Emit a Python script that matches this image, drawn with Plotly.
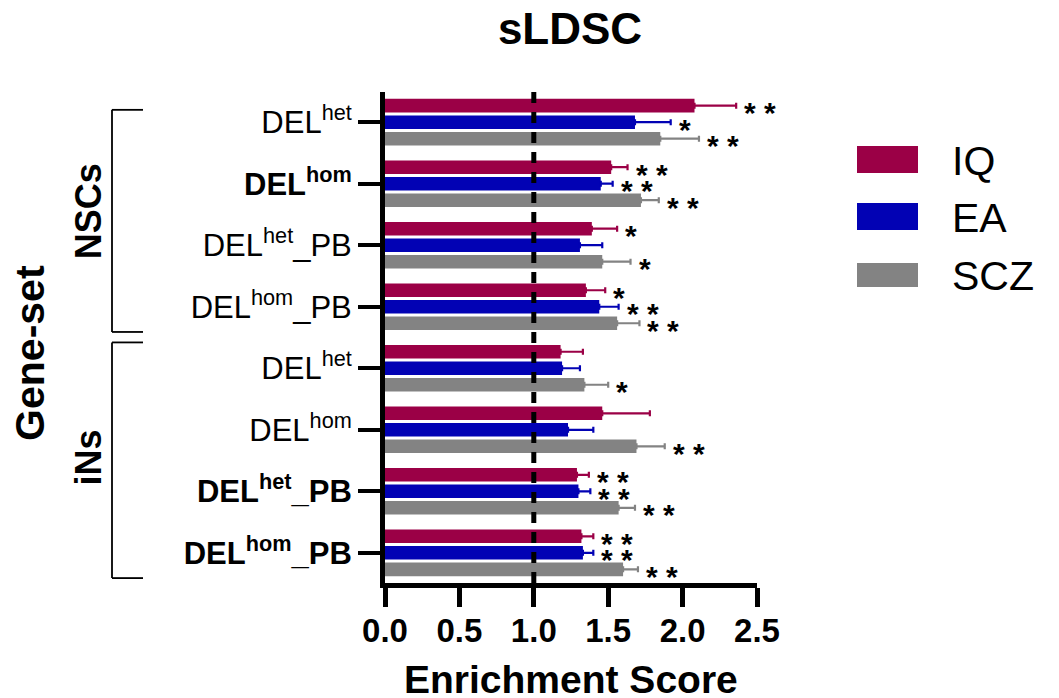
import plotly.graph_objects as go

# ---------------- data ----------------
gene_sets = [
    "DEL<sup>het</sup>",
    "<b>DEL<sup>hom</sup></b>",
    "DEL<sup>het</sup>_PB",
    "DEL<sup>hom</sup>_PB",
    "DEL<sup>het</sup>",
    "DEL<sup>hom</sup>",
    "<b>DEL<sup>het</sup>_PB</b>",
    "<b>DEL<sup>hom</sup>_PB</b>",
]
series_names = ["IQ", "EA", "SCZ"]

iq_vals = [2.08, 1.52, 1.39, 1.35, 1.18, 1.46, 1.29, 1.32]
iq_err = [0.28, 0.11, 0.17, 0.13, 0.15, 0.32, 0.08, 0.08]
ea_vals = [1.68, 1.45, 1.31, 1.44, 1.19, 1.23, 1.30, 1.33]
ea_err = [0.24, 0.08, 0.15, 0.13, 0.12, 0.17, 0.08, 0.07]
scz_vals = [1.85, 1.72, 1.46, 1.56, 1.34, 1.69, 1.57, 1.60]
scz_err = [0.26, 0.12, 0.19, 0.15, 0.16, 0.19, 0.11, 0.10]

iq_stars = ["**", "**", "*", "*", "", "", "**", "**"]
ea_stars = ["*", "**", "", "**", "", "", "**", "**"]
scz_stars = ["**", "**", "*", "**", "*", "**", "**", "**"]

x_ticks = [0.0, 0.5, 1.0, 1.5, 2.0, 2.5]
x_ticktext = ["0.0", "0.5", "1.0", "1.5", "2.0", "2.5"]
groups = [("NSCs", 0, 3), ("iNs", 4, 7)]

colors = ["#9B0046", "#0202B4", "#838383"]

# ---------------- layout geometry ----------------
W, H = 1059, 698
ML, MR, MT, MB = 385, 302, 92, 115
PW, PH = W - ML - MR, H - MT - MB
FONT = "Liberation Sans, Arial, sans-serif"


def px_x(px):
    return (px - ML) / PW


def px_y(py):
    return (H - MB - py) / PH


BARGAP = 0.195
slot = (1 - BARGAP) / 3

fig = go.Figure()
ypos = list(range(len(gene_sets)))
all_vals = [iq_vals, ea_vals, scz_vals]
all_err = [iq_err, ea_err, scz_err]
all_stars = [iq_stars, ea_stars, scz_stars]

for name, vals, err, col in zip(series_names, all_vals, all_err, colors):
    fig.add_trace(go.Bar(
        y=ypos, x=vals, name=name, orientation="h",
        marker=dict(color=col, line=dict(width=0)),
        error_x=dict(type="data", array=err, arrayminus=[0] * len(err),
                     symmetric=False, color=col, thickness=2.2, width=3),
        showlegend=False,
    ))

annotations = []
for k, (vals, err, stars) in enumerate(zip(all_vals, all_err, all_stars)):
    off = (k - 1) * slot
    for i, (v, e, s) in enumerate(zip(vals, err, stars)):
        if not s:
            continue
        annotations.append(dict(
            x=v + e, y=i + off, xref="x", yref="y",
            text="<b>" + " ".join(list(s)) + "</b>", showarrow=False,
            xanchor="left", yanchor="middle", xshift=6, yshift=-7,
            font=dict(family=FONT, size=30, color="black"),
        ))

shapes = []
# dashed reference line at 1.0
shapes.append(dict(type="line", xref="x", yref="paper", x0=1, x1=1, y0=0, y1=1,
                   line=dict(color="black", width=5, dash="11px,9px"), layer="above"))

# group brackets
for gname, g0, g1 in groups:
    ytop = g0 - 0.2
    ybot = g1 + 0.41
    if g0 > 0:
        ytop = g0 - 0.42
    xv = px_x(112)
    xh = px_x(143)
    shapes.append(dict(type="line", xref="paper", yref="y", x0=xv, x1=xv, y0=ytop, y1=ybot,
                       line=dict(color="black", width=1.8)))
    shapes.append(dict(type="line", xref="paper", yref="y", x0=xv, x1=xh, y0=ytop, y1=ytop,
                       line=dict(color="black", width=1.8)))
    shapes.append(dict(type="line", xref="paper", yref="y", x0=xv, x1=xh, y0=ybot, y1=ybot,
                       line=dict(color="black", width=1.8)))
    annotations.append(dict(
        x=px_x(88), y=(g0 + g1) / 2 - 0.05, xref="paper", yref="y",
        text="<b>%s</b>" % gname, textangle=-90, showarrow=False,
        xanchor="center", yanchor="middle",
        font=dict(family=FONT, size=36, color="black"),
    ))

annotations.append(dict(
    x=px_x(30), y=3.75, xref="paper", yref="y", text="<b>Gene-set</b>",
    textangle=-90, showarrow=False, xanchor="center", yanchor="middle",
    font=dict(family=FONT, size=41, color="black"),
))

annotations.append(dict(
    x=0.5, y=px_y(679), xref="paper", yref="paper", text="<b>Enrichment Score</b>",
    showarrow=False, xanchor="center", yanchor="middle",
    font=dict(family=FONT, size=39, color="black"),
))

# manual legend
leg_y = [(146, 173), (203, 230), (263, 287)]
for name, col, (y0, y1) in zip(series_names, colors, leg_y):
    shapes.append(dict(type="rect", xref="paper", yref="paper",
                       x0=px_x(857), x1=px_x(918), y0=px_y(y1), y1=px_y(y0),
                       fillcolor=col, line=dict(width=0)))
    annotations.append(dict(
        x=px_x(950), y=px_y((y0 + y1) / 2 + 1), xref="paper", yref="paper",
        text=name, showarrow=False, xanchor="left", yanchor="middle",
        font=dict(family=FONT, size=41, color="black"),
    ))

fig.update_layout(
    width=W, height=H,
    margin=dict(l=ML, r=MR, t=MT, b=MB),
    plot_bgcolor="white", paper_bgcolor="white",
    barmode="group", bargap=BARGAP, bargroupgap=0.18,
    title=dict(text="<b>sLDSC</b>", x=570 / W, xanchor="center",
               y=1 - 29 / H, yanchor="middle", yref="container",
               font=dict(family=FONT, size=44, color="black")),
    xaxis=dict(range=[0, 2.5], tickvals=x_ticks, ticktext=x_ticktext,
               showgrid=False, zeroline=False,
               showline=True, linecolor="black", linewidth=5,
               ticks="outside", ticklen=19, tickwidth=5, tickcolor="black",
               ticklabelstandoff=-5,
               tickfont=dict(family=FONT, size=33, color="black", weight="bold")),
    yaxis=dict(range=[7.49, -0.49], tickvals=ypos, ticktext=gene_sets,
               showgrid=False, zeroline=False,
               showline=True, linecolor="black", linewidth=5,
               ticks="outside", ticklen=22, tickwidth=4, tickcolor="black",
               tickfont=dict(family=FONT, size=31, color="black")),
    shapes=shapes, annotations=annotations,
    showlegend=False,
)

fig.write_html(
    "out.html",
    config={"displayModeBar": False},
    post_script="document.body.style.margin='0';document.body.style.overflow='hidden';",
)
